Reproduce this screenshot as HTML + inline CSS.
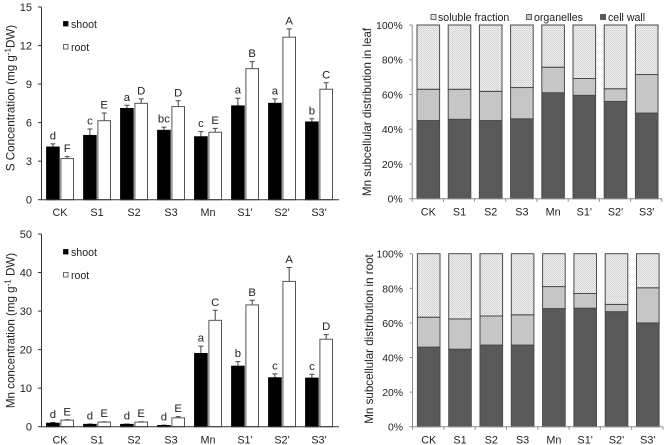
<!DOCTYPE html>
<html>
<head>
<meta charset="utf-8">
<style>
html,body{margin:0;padding:0;background:#fff;width:666px;height:445px;overflow:hidden}
svg{display:block;filter:blur(0.35px)}
text{font-family:"Liberation Sans",sans-serif;fill:#222}
</style>
</head>
<body>
<svg id="fig" xmlns="http://www.w3.org/2000/svg" width="666" height="445" viewBox="0 0 666 445">
<defs>
<pattern id="dots" width="2" height="2" patternUnits="userSpaceOnUse">
<rect width="2" height="2" fill="#f2f2f2"/>
<rect width="1" height="1" fill="#cdcdcd"/>
<rect x="1" y="1" width="1" height="1" fill="#d4d4d4"/>
</pattern>
</defs>
</svg>
<script>
const categories = ["CK","S1","S2","S3","Mn","S1'","S2'","S3'"];

const sShoot = [4.1,5.0,7.1,5.4,4.9,7.3,7.5,6.05];
const sShootErr = [0.25,0.5,0.25,0.25,0.4,0.6,0.35,0.25];
const sShootLetters = ["d","c","a","bc","c","a","a","b"];
const sRoot = [3.2,6.15,7.5,7.25,5.25,10.2,12.65,8.6];
const sRootErr = [0.15,0.6,0.35,0.45,0.3,0.55,0.65,0.5];
const sRootLetters = ["F","E","D","D","E","B","A","C"];
const sTicks = [0,3,6,9,12,15];

const mnShoot = [0.9,0.6,0.6,0.3,19,15.7,12.7,12.6];
const mnShootErr = [0.2,0.1,0.1,0.1,1.9,1.2,1,1];
const mnShootLetters = ["d","d","d","d","a","b","c","c"];
const mnRoot = [1.7,1.2,1.2,2.3,27.6,31.6,37.7,22.7];
const mnRootErr = [0.1,0.1,0.1,0.3,2.6,1.2,3.6,1.2];
const mnRootLetters = ["E","E","E","E","C","B","A","D"];
const mnTicks = [0,10,20,30,40,50];

const leafWall = [45,45.7,45,46,61,59.5,56,49.3];
const leafOrganelles = [18,17.3,16.8,18,14.7,9.7,7.3,22.2];
const leafSoluble = [37,37,38.2,36,24.3,30.8,36.7,28.5];

const rootWall = [46,44.8,47.2,47.2,68.3,68.5,66.5,60];
const rootOrganelles = [17.3,17.5,16.8,17.5,12.7,8.5,4.2,20.3];
const rootSoluble = [36.7,37.7,36,35.3,19,23,29.3,19.7];

const pctTicks = [0,20,40,60,80,100];

const svg = document.getElementById('fig');
const NS = 'http://www.w3.org/2000/svg';

function mk(tag, attrs, parent, txt) {
  const e = document.createElementNS(NS, tag);
  for (const k in attrs) e.setAttribute(k, attrs[k]);
  if (txt !== undefined) e.textContent = txt;
  (parent || svg).appendChild(e);
  return e;
}

function panelGroup(name) {
  const g = mk('g', {});
  
  
  return g;
}

function label(g, x, y, str, anchor, name, size) {
  const t = mk('text', {x: x, y: y, 'text-anchor': anchor, 'font-size': size || 10.8}, g, str);
  
  
  return t;
}

function yTitle(g, cx, cy, before, sup, after, name) {
  const t = mk('text', {transform: 'translate(' + cx + ',' + cy + ') rotate(-90)', 'text-anchor': 'middle', 'font-size': 11.6}, g);
  
  
  mk('tspan', {}, t, before);
  if (sup) {
    mk('tspan', {'font-size': 8, dy: -4}, t, sup);
    mk('tspan', {dy: 4}, t, after);
  }
}

function barPanel(cfg) {
  const g = panelGroup(cfg.name);
  const x0 = 41.5, xEnd = 339;
  const y = v => cfg.y0 - (v / cfg.max) * (cfg.y0 - cfg.yTop);
  const cx = i => 60 + 37 * i;

  function series(vals, errs, letters, left, fill, nm) {
    vals.forEach((v, i) => {
      const bx = cx(i) + left, w = 12.6, mid = bx + w / 2;
      const top = y(v), errTop = y(v + errs[i]);
      const line = mk('path', {d: 'M' + mid + ' ' + top + 'V' + errTop + 'M' + (mid - 2.5) + ' ' + errTop + 'H' + (mid + 2.5), stroke: '#444', 'stroke-width': 1, fill: 'none'}, g);
      
      
      const r = mk('rect', {x: bx, y: top, width: w, height: cfg.y0 - top, fill: fill, stroke: fill === '#000' ? '#000' : '#555', 'stroke-width': 1}, g);
      
      
      label(g, mid, errTop - 4.5, letters[i], 'middle', nm + '-significance-letter', 11.3);
    });
  }
  series(cfg.shoot, cfg.shootErr, cfg.shootLetters, -13.4, '#000', 'shoot');
  series(cfg.root, cfg.rootErr, cfg.rootLetters, 0.9, '#fff', 'root');

  const axis = mk('path', {d: 'M' + x0 + ' ' + cfg.yTop + 'V' + cfg.y0 + 'H' + xEnd, stroke: '#333', 'stroke-width': 1, fill: 'none'}, g);
  
  
  cfg.ticks.forEach(t => {
    const tk = mk('line', {x1: x0 - 3.5, x2: x0, y1: y(t), y2: y(t), stroke: '#333', 'stroke-width': 1}, g);
    
    
    label(g, 32, y(t) + 4, String(t), 'end', 'y-tick-label', 11);
  });
  categories.forEach((c, i) => label(g, cx(i), cfg.catY, c, 'middle', 'x-tick-label'));

  const s1 = mk('rect', {x: 63.5, y: cfg.legY1 - 2.5, width: 4.5, height: 4.5, fill: '#000', stroke: '#000', 'stroke-width': 0.8}, g);
  
  
  label(g, 71, cfg.legY1 + 4, 'shoot', 'start', 'legend-label-shoot', 10.6);
  const s2 = mk('rect', {x: 63.5, y: cfg.legY2 - 2.5, width: 4.5, height: 4.5, fill: '#fff', stroke: '#444', 'stroke-width': 0.8}, g);
  
  
  label(g, 71, cfg.legY2 + 4, 'root', 'start', 'legend-label-root', 10.6);
  return g;
}

function stackPanel(cfg) {
  const g = panelGroup(cfg.name);
  const y = v => cfg.y0 - (v / 100) * (cfg.y0 - cfg.yTop);
  const cx = i => cfg.first + cfg.step * i;
  const w = 22.6;

  categories.forEach((c, i) => {
    const wall = cfg.wall[i], org = cfg.org[i], sol = cfg.sol[i];
    const parts = [
      [0, wall, '#595959', 'cell-wall-segment'],
      [wall, wall + org, '#c6c6c6', 'organelles-segment'],
      [wall + org, wall + org + sol, 'url(#dots)', 'soluble-fraction-segment']
    ];
    parts.forEach(p => {
      const r = mk('rect', {x: cx(i) - w / 2, y: y(p[1]), width: w, height: y(p[0]) - y(p[1]), fill: p[2], stroke: '#4a4a4a', 'stroke-width': 1}, g);
      
      
    });
    label(g, cx(i), cfg.catY, c, 'middle', 'x-tick-label');
  });

  const xa = cfg.first - cfg.step / 2 - 0.5, xb = xa + cfg.step * 8;
  const axis = mk('path', {d: 'M' + xa + ' ' + cfg.yTop + 'V' + cfg.y0 + 'H' + xb, stroke: '#8c8c8c', 'stroke-width': 1, fill: 'none'}, g);
  
  
  pctTicks.forEach(t => {
    const tk = mk('line', {x1: xa - 3, x2: xa, y1: y(t), y2: y(t), stroke: '#8c8c8c', 'stroke-width': 1}, g);
    
    
    label(g, xa - 9.5, y(t) + 4, t + '%', 'end', 'y-tick-label', 10.4);
  });
  for (let i = 0; i <= 8; i++) {
    const tk = mk('line', {x1: xa + cfg.step * i, x2: xa + cfg.step * i, y1: cfg.y0, y2: cfg.y0 + 3, stroke: '#8c8c8c', 'stroke-width': 1}, g);
    
    
  }
  return g;
}

const p1 = barPanel({name:'s-concentration-chart', y0:199.7, yTop:7, max:15, catY:216, legY1:24, legY2:47,
  shoot:sShoot, shootErr:sShootErr, shootLetters:sShootLetters,
  root:sRoot, rootErr:sRootErr, rootLetters:sRootLetters, ticks:sTicks});
yTitle(p1, 14.5, 98, 'S  Concentration (mg g', '-1', 'DW)', 'y-axis-title');

const p2 = barPanel({name:'mn-concentration-chart', y0:426.7, yTop:234, max:50, catY:443.5, legY1:252, legY2:275,
  shoot:mnShoot, shootErr:mnShootErr, shootLetters:mnShootLetters,
  root:mnRoot, rootErr:mnRootErr, rootLetters:mnRootLetters, ticks:mnTicks});
yTitle(p2, 14.5, 330.5, 'Mn concentration (mg g', '-1', ' DW)', 'y-axis-title');

const p3 = stackPanel({name:'leaf-distribution-chart', y0:198.7, yTop:25, first:428.3, step:31.2, catY:215.5,
  wall:leafWall, org:leafOrganelles, sol:leafSoluble});
yTitle(p3, 371, 112, 'Mn subcellular distribution in leaf', '', '', 'y-axis-title');

const legendEntries = ['soluble fraction','organelles','cell wall'];
const legendFills = ['url(#dots)','#c6c6c6','#595959'];
const legendSwatchX = [431,526.5,600.5];
const legendTextX = [438,534,608];
legendEntries.forEach((n, i) => {
  const s = mk('rect', {x: legendSwatchX[i], y: 14.5, width: 5, height: 5, fill: legendFills[i], stroke: '#444', 'stroke-width': 0.8}, p3);
  
  
  label(p3, legendTextX[i], 21, n, 'start', 'legend-label', 10.6);
});

const p4 = stackPanel({name:'root-distribution-chart', y0:426.7, yTop:253.7, first:428.7, step:31.3, catY:443.5,
  wall:rootWall, org:rootOrganelles, sol:rootSoluble});
yTitle(p4, 373, 339, 'Mn subcellular distribution in root', '', '', 'y-axis-title');
</script>
</body>
</html>
